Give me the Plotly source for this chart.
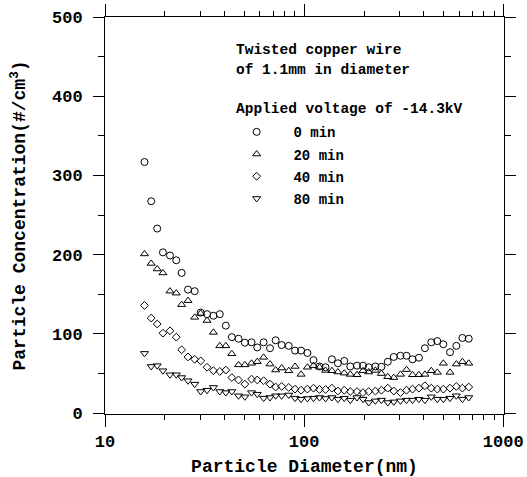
import plotly.graph_objects as go

diameter_nm = [15.79, 17.06, 18.29, 19.54, 21.20, 22.80, 24.26, 26.11, 28.21, 30.25,
               32.55, 35.04, 37.72, 40.44, 43.35, 46.84, 50.41, 54.46, 58.16, 62.61,
               67.41, 71.96, 77.15, 83.70, 90.07, 96.58, 103.9, 111.5, 119.5, 128.1,
               137.9, 147.8, 159.1, 170.6, 184.3, 197.6, 211.1, 228.0, 244.5, 263.2,
               282.1, 304.8, 326.8, 350.4, 377.2, 404.4, 435.3, 466.7, 500.4, 540.6,
               581.6, 623.7, 671.3]

conc_0min = [317, 267.5, 233, 203, 199, 193, 177, 156, 154, 127,
             125, 123, 125, 110.5, 96, 94, 89, 89.5, 83, 89.5,
             82, 92, 86, 85, 79, 79, 76, 67, 59, 58,
             68, 63, 66, 59, 60, 60, 58, 59, 58.6, 65,
             71, 72.5, 72.5, 68, 70, 82, 89.5, 91, 87, 77,
             85, 95, 94]

conc_20min = [201, 189, 182, 177, 154, 151.5, 137, 142, 121, 126,
              117, 102, 85, 85, 75, 61, 61, 63, 65, 70.5,
              62, 54.5, 57, 53.6, 59, 49, 58, 60, 58, 54,
              53.6, 52, 50.6, 49, 48.5, 53.6, 52, 54, 50, 46,
              45, 49, 55, 48.5, 48.5, 49, 53.6, 51.5, 63, 51.5,
              62, 65, 63]

conc_40min = [136, 120, 112.6, 101, 104, 96, 80, 71, 68, 66,
              58, 53.6, 52.7, 54.4, 45, 42, 36.7, 43, 42, 41,
              36.7, 33, 33.8, 32.5, 30.4, 29, 30.4, 31.6, 30, 30,
              31.6, 28, 29, 27.4, 27.4, 26, 27.4, 28, 29, 31.6,
              28, 26, 29, 30.4, 31.6, 34.6, 31.6, 30.4, 30.4, 31.6,
              33.8, 31.6, 33]

conc_80min = [75.5, 59, 60, 53.6, 48.5, 48.5, 45, 41, 36.7, 27.4,
              29, 32.5, 27.4, 26, 27.4, 22, 20.7, 26, 24, 19,
              19.8, 22, 22, 23, 19, 17.7, 18.6, 19, 19.8, 18.6,
              19.8, 17.7, 19, 16.5, 19.8, 17.7, 13.5, 15.6, 16.5, 13.5,
              14.3, 15.6, 16.5, 16.5, 17.7, 16.5, 20.7, 17.7, 17.7, 19,
              22, 17.7, 19.8]

series_names = ["0 min", "20 min", "40 min", "80 min"]
series_values = [conc_0min, conc_20min, conc_40min, conc_80min]
symbols = ["circle-open", "triangle-up-open", "diamond-open", "triangle-down-open"]
sizes = [7, 7, 6, 7]

x_major_ticks = [10, 100, 1000]
x_minor_ticks = [20, 30, 40, 50, 60, 70, 80, 90, 200, 300, 400, 500, 600, 700, 800, 900]
y_major_ticks = [0, 100, 200, 300, 400, 500]

MONO = "Liberation Mono"

fig = go.Figure()
for i, (name, vals) in enumerate(zip(series_names, series_values)):
    fig.add_trace(go.Scatter(
        x=diameter_nm, y=vals, mode="markers", name="\u00a0\u00a0" + name,
        legendgroup="g%d" % i,
        marker=dict(symbol=symbols[i], size=sizes[i], color="black",
                    line=dict(width=1, color="black")),
    ))

axis_common = dict(showline=True, linecolor="black", linewidth=1, mirror="allticks",
                   ticks="outside", tickcolor="black", tickwidth=1, showgrid=False,
                   zeroline=False, automargin=False,
                   tickfont=dict(family=MONO, size=17, color="black", weight="bold"))

fig.update_layout(
    width=527, height=477,
    margin=dict(l=105, r=23, t=17, b=63),
    paper_bgcolor="white", plot_bgcolor="white",
    showlegend=True,
    legend=dict(x=0.33, y=0.75, xanchor="left", yanchor="top",
                font=dict(family=MONO, size=14, color="black", weight="bold"),
                bgcolor="rgba(0,0,0,0)", traceorder="grouped", tracegroupgap=1),
    xaxis=dict(type="log", range=[1, 3.004], tickvals=x_major_ticks,
               ticktext=[str(v) for v in x_major_ticks], ticklen=12,
               minor=dict(tickmode="array", tickvals=x_minor_ticks, ticks="outside",
                          ticklen=5, tickcolor="black"),
               title=dict(text="Particle Diameter(nm)", standoff=10,
                          font=dict(family=MONO, size=18, color="black", weight="bold")),
               **axis_common),
    yaxis=dict(range=[-1, 500], tickvals=y_major_ticks, ticklen=11,
               ticklabelstandoff=7,
               minor=dict(dtick=50, ticks="outside", ticklen=6, tickcolor="black"),
               title=dict(text="Particle Concentration(#/cm<sup>3</sup>)", standoff=21,
                          font=dict(family=MONO, size=18, color="black", weight="bold")),
               **axis_common),
)

notes = [("Twisted copper wire", 50), ("of 1.1mm in diameter", 70),
         ("Applied voltage of -14.3kV", 109)]
for txt, ypx in notes:
    fig.add_annotation(text=txt, xref="paper", yref="paper",
                       x=(234 - 105) / 399, y=(414 - ypx) / 397,
                       xanchor="left", yanchor="middle", showarrow=False,
                       font=dict(family=MONO, size=14.5, color="black", weight="bold"))

fig.write_html("out.html")
